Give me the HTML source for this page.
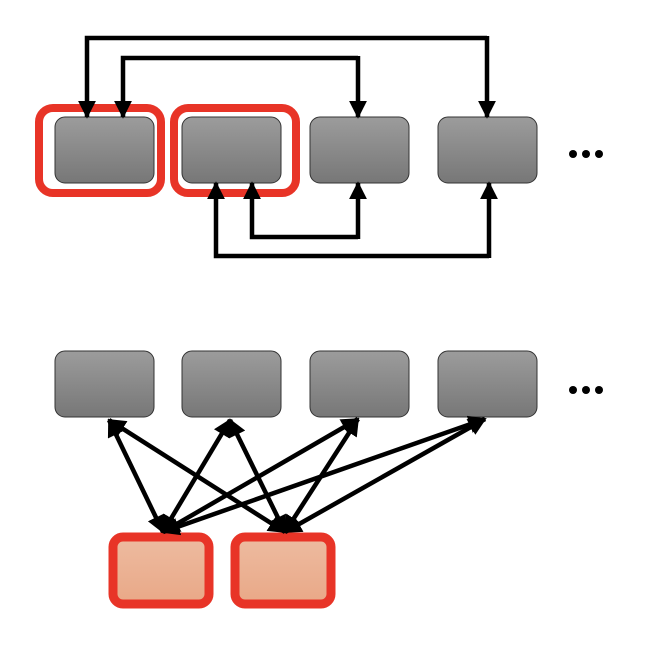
<!DOCTYPE html>
<html><head><style>body{margin:0;background:#fff;width:650px;height:642px;overflow:hidden}</style></head><body>
<svg width="650" height="642" xmlns="http://www.w3.org/2000/svg">
<defs>
<linearGradient id="g" x1="0" y1="0" x2="0" y2="1"><stop offset="0" stop-color="#9c9c9c"/><stop offset="1" stop-color="#777"/></linearGradient>
<linearGradient id="p" x1="0" y1="0" x2="0" y2="1"><stop offset="0" stop-color="#edbba0"/><stop offset="1" stop-color="#e9a887"/></linearGradient>
<marker id="a" markerWidth="4" markerHeight="4" refX="3.6" refY="2" orient="auto" markerUnits="strokeWidth"><path d="M0,0L4,2L0,4z" fill="#000"/></marker>
<marker id="b" markerWidth="4" markerHeight="4" refX="0.4" refY="2" orient="auto" markerUnits="strokeWidth"><path d="M4,0L0,2L4,4z" fill="#000"/></marker>
</defs>
<rect x="39" y="108" width="122" height="85" rx="14" fill="none" stroke="#e83427" stroke-width="8"/>
<rect x="174" y="108" width="122" height="85" rx="14" fill="none" stroke="#e83427" stroke-width="8"/>
<g fill="url(#g)" stroke="#333" stroke-width="1">
<rect x="55" y="117" width="99" height="66" rx="10"/><rect x="182" y="117" width="99" height="66" rx="10"/>
<rect x="310" y="117" width="99" height="66" rx="10"/><rect x="438" y="117" width="99" height="66" rx="10"/>
<rect x="55" y="351" width="99" height="66" rx="10"/><rect x="182" y="351" width="99" height="66" rx="10"/>
<rect x="310" y="351" width="99" height="66" rx="10"/><rect x="438" y="351" width="99" height="66" rx="10"/>
</g>
<rect x="113" y="537" width="96" height="67" rx="10" fill="url(#p)" stroke="#e83427" stroke-width="9"/>
<rect x="235" y="537" width="96" height="67" rx="10" fill="url(#p)" stroke="#e83427" stroke-width="9"/>
<g fill="none" stroke="#000" stroke-width="4.5" marker-end="url(#a)">
<path d="M487,38H87V117"/><path d="M487,36V117"/>
<path d="M358,58H123V117"/><path d="M358,56V117"/>
<path d="M358,237H252V183"/><path d="M358,239V183"/>
<path d="M489,256H216V183"/><path d="M489,258V183"/>
</g>
<g stroke="#000" stroke-width="4.5" marker-end="url(#a)" marker-start="url(#b)">
<line x1="109" y1="420" x2="163" y2="532"/><line x1="109" y1="420" x2="285" y2="532"/>
<line x1="230" y1="420" x2="163" y2="532"/><line x1="230" y1="420" x2="285" y2="532"/>
<line x1="358" y1="419" x2="163" y2="532"/><line x1="358" y1="419" x2="285" y2="532"/>
<line x1="485" y1="419" x2="163" y2="532"/><line x1="485" y1="419" x2="285" y2="532"/>
</g>
<g fill="#000"><circle cx="573" cy="154" r="4"/><circle cx="586" cy="154" r="4"/><circle cx="599" cy="154" r="4"/>
<circle cx="573" cy="390" r="4"/><circle cx="586" cy="390" r="4"/><circle cx="599" cy="390" r="4"/></g>
</svg>
</body></html>
